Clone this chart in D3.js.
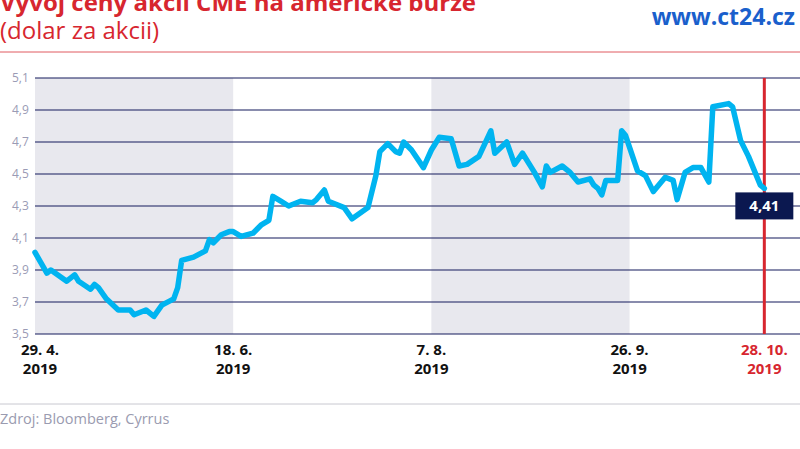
<!DOCTYPE html>
<html><head><meta charset="utf-8">
<script src="https://cdn.jsdelivr.net/npm/d3@7"></script>
<style>body{margin:0;background:#fff}svg{display:block}</style>
</head><body><div id="main"></div>
<script>
// days since 29. 4. 2019
const days = [0,3,4,8,10,11,14,15,16,18,21,24,25,28,30,32,35,36,37,40,43,44,45,47,49,50,52,55,57,59,60,62,64,67,70,71,73,74,78,80,84,86,87,89,91,92,93,95,98,100,102,105,107,109,112,115,116,119,121,123,126,128,129,130,133,135,137,140,141,142,143,144,147,148,149,152,154,156,159,161,162,164,166,168,170,171,175,176,178,180,183,184];
const prices = [4.01,3.88,3.90,3.83,3.87,3.83,3.78,3.81,3.79,3.72,3.65,3.65,3.62,3.65,3.61,3.68,3.72,3.79,3.96,3.98,4.02,4.09,4.07,4.12,4.14,4.14,4.11,4.13,4.18,4.21,4.36,4.33,4.30,4.33,4.32,4.34,4.40,4.33,4.29,4.22,4.29,4.49,4.64,4.69,4.64,4.63,4.70,4.65,4.54,4.65,4.73,4.72,4.55,4.56,4.61,4.77,4.63,4.70,4.56,4.63,4.51,4.42,4.55,4.51,4.55,4.51,4.45,4.47,4.43,4.41,4.37,4.46,4.46,4.77,4.74,4.52,4.49,4.39,4.48,4.46,4.34,4.51,4.54,4.54,4.45,4.92,4.94,4.92,4.71,4.61,4.43,4.41];
const tickDays = [0,50,100,150,184];
const tickLabels = ['29. 4.','18. 6.','7. 8.','26. 9.','28. 10.'];
const yTicks = [3.5,3.7,3.9,4.1,4.3,4.5,4.7,4.9,5.1];
const shadeBands = [[0,50],[100,150]];
const lastLabel = '4,41';

const w = 800, h = 449;
const svg = d3.select('#main').append('svg').attr('width', w).attr('height', h)
  .style('font-family', 'Open Sans, sans-serif');

const x = d3.scaleLinear().domain([0, 193]).range([35, 800]);
const y = d3.scaleLinear().domain([3.5, 5.1]).range([334, 78]);
const fmt = v => d3.format('.1f')(v).replace('.', ',');

// header
svg.append('text').attr('x', 0).attr('y', 11).attr('fill', '#d7262f')
  .style('font-size', '24px').style('font-weight', 'bold').text('Vývoj ceny akcií CME na americké burze');
svg.append('text').attr('x', 0).attr('y', 39).attr('fill', '#d7262f')
  .style('font-size', '24px').text('(dolar za akcii)');
svg.append('text').attr('x', 795).attr('y', 25).attr('text-anchor', 'end').attr('fill', '#1a5fcc')
  .style('font-size', '23px').style('font-weight', 'bold').text('www.ct24.cz');
svg.append('line').attr('x1', 0).attr('x2', w).attr('y1', 52).attr('y2', 52).attr('stroke', '#e05a60').attr('stroke-width', 1);

// shaded periods
svg.selectAll('rect.band').data(shadeBands).enter().append('rect')
  .attr('x', d => x(d[0])).attr('width', d => x(d[1]) - x(d[0]))
  .attr('y', y(5.1)).attr('height', y(3.5) - y(5.1)).attr('fill', '#e8e8ee');

// grid
svg.selectAll('line.grid').data(yTicks).enter().append('line')
  .attr('x1', 35).attr('x2', 800).attr('y1', d => y(d)).attr('y2', d => y(d))
  .attr('stroke', '#141a5c').attr('stroke-width', 1.2);
svg.selectAll('text.yl').data(yTicks).enter().append('text')
  .attr('x', 12).attr('y', d => y(d) + 4).attr('fill', '#9a9bb5')
  .style('font-size', '12px').text(fmt);

// red line at last date
svg.append('line').attr('x1', x(184)).attr('x2', x(184)).attr('y1', y(5.1)).attr('y2', y(3.5))
  .attr('stroke', '#d7262f').attr('stroke-width', 3);

// price line
const line = d3.line().x((d, i) => x(days[i])).y(d => y(d)).curve(d3.curveLinear);
svg.append('path').attr('d', line(prices)).attr('fill', 'none')
  .attr('stroke', '#00b4f0').attr('stroke-width', 5.5).attr('stroke-linejoin', 'round').attr('stroke-linecap', 'round');

// last value label
const lx = x(184), ly = y(4.41) + 17;
svg.append('rect').attr('x', lx - 29).attr('y', ly - 13).attr('width', 58).attr('height', 27).attr('fill', '#0b1850');
svg.append('text').attr('x', lx).attr('y', ly + 6).attr('text-anchor', 'middle').attr('fill', '#fff')
  .style('font-size', '15px').style('font-weight', 'bold').text(lastLabel);

// x labels
const xl = svg.selectAll('g.xl').data(tickDays).enter().append('g')
  .attr('transform', (d, i) => `translate(${i === 0 ? x(d) + 5 : x(d)},0)`);
xl.append('text').attr('y', 355).attr('text-anchor', 'middle')
  .attr('fill', (d, i) => i === tickDays.length - 1 ? '#d7262f' : '#111')
  .style('font-size', '15px').style('font-weight', 'bold').text((d, i) => tickLabels[i]);
xl.append('text').attr('y', 374).attr('text-anchor', 'middle')
  .attr('fill', (d, i) => i === tickDays.length - 1 ? '#d7262f' : '#111')
  .style('font-size', '15px').style('font-weight', 'bold').text('2019');

// footer
svg.append('line').attr('x1', 0).attr('x2', w).attr('y1', 404).attr('y2', 404).attr('stroke', '#c8c8d0');
svg.append('text').attr('x', 0).attr('y', 424).attr('fill', '#9a9bb0').style('font-size', '14.5px').text('Zdroj: Bloomberg, Cyrrus');
</script></body></html>
